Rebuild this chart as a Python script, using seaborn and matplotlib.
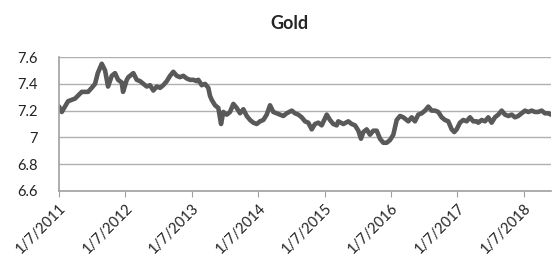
import numpy as np
import pandas as pd
import seaborn as sns
import matplotlib.pyplot as plt

# time since 7 Jan 2011, in years, and log gold price
t_years = [0.000, 0.041, 0.136, 0.241, 0.342, 0.437, 0.492, 0.542, 0.583, 0.643,
           0.693, 0.738, 0.794, 0.843, 0.889, 0.944, 0.964, 1.020, 1.044, 1.119,
           1.170, 1.220, 1.270, 1.321, 1.370, 1.420, 1.471, 1.521, 1.570, 1.622,
           1.672, 1.721, 1.773, 1.822, 1.872, 1.923, 1.973, 2.023, 2.074, 2.098,
           2.149, 2.199, 2.248, 2.274, 2.300, 2.349, 2.399, 2.440, 2.474, 2.526,
           2.575, 2.625, 2.676, 2.726, 2.776, 2.827, 2.877, 2.926, 2.977, 3.027,
           3.077, 3.128, 3.178, 3.227, 3.279, 3.328, 3.378, 3.429, 3.505, 3.554,
           3.604, 3.655, 3.705, 3.754, 3.806, 3.855, 3.905, 3.956, 4.032, 4.081,
           4.131, 4.182, 4.206, 4.282, 4.357, 4.408, 4.458, 4.508, 4.548, 4.583,
           4.634, 4.684, 4.733, 4.785, 4.834, 4.884, 4.935, 4.985, 5.035, 5.086,
           5.136, 5.185, 5.261, 5.312, 5.361, 5.411, 5.462, 5.512, 5.562, 5.613,
           5.663, 5.712, 5.764, 5.813, 5.863, 5.914, 5.953, 5.989, 6.039, 6.089,
           6.140, 6.190, 6.239, 6.290, 6.315, 6.366, 6.416, 6.465, 6.516, 6.566,
           6.616, 6.667, 6.717, 6.767, 6.818, 6.867, 6.917, 6.968, 7.018, 7.068,
           7.119, 7.169, 7.218, 7.269, 7.319, 7.369, 7.410]
gold = [7.23, 7.19, 7.27, 7.29, 7.34, 7.34, 7.37, 7.40, 7.48, 7.55,
        7.50, 7.38, 7.46, 7.48, 7.43, 7.41, 7.34, 7.43, 7.45, 7.48,
        7.43, 7.42, 7.40, 7.38, 7.39, 7.35, 7.38, 7.37, 7.39, 7.42,
        7.46, 7.49, 7.46, 7.45, 7.46, 7.44, 7.43, 7.43, 7.42, 7.43,
        7.39, 7.40, 7.37, 7.31, 7.28, 7.24, 7.22, 7.10, 7.19, 7.17,
        7.19, 7.25, 7.22, 7.18, 7.21, 7.16, 7.13, 7.11, 7.10, 7.12,
        7.13, 7.17, 7.24, 7.19, 7.18, 7.17, 7.16, 7.18, 7.20, 7.18,
        7.17, 7.15, 7.12, 7.11, 7.06, 7.10, 7.11, 7.09, 7.17, 7.13,
        7.10, 7.09, 7.12, 7.10, 7.12, 7.10, 7.09, 7.05, 6.99, 7.04,
        7.06, 7.02, 7.05, 7.05, 6.99, 6.96, 6.96, 6.98, 7.02, 7.13,
        7.16, 7.15, 7.12, 7.15, 7.12, 7.17, 7.18, 7.20, 7.23, 7.20,
        7.20, 7.19, 7.15, 7.13, 7.12, 7.06, 7.04, 7.06, 7.11, 7.13,
        7.12, 7.15, 7.12, 7.12, 7.11, 7.13, 7.12, 7.15, 7.11, 7.15,
        7.17, 7.20, 7.17, 7.16, 7.17, 7.15, 7.16, 7.18, 7.20, 7.19,
        7.20, 7.19, 7.19, 7.20, 7.18, 7.18, 7.17]
tick_years = [2011, 2012, 2013, 2014, 2015, 2016, 2017, 2018]

start = pd.Timestamp("2011-01-07")
df = pd.DataFrame({
    "date": start + pd.to_timedelta(np.array(t_years) * 365.25, unit="D"),
    "gold": gold,
})

sns.set_style("white")
plt.rcParams["font.family"] = ["Lato", "DejaVu Sans"]

fig = plt.figure(figsize=(5.52, 2.63), dpi=100)
ax = fig.add_axes([0.107, 0.274, 0.891, 0.509])

sns.lineplot(data=df, x="date", y="gold", ax=ax, color="#595959", linewidth=3.3)

ticks = [pd.Timestamp(f"{y}-01-07") for y in tick_years]
ax.set_xticks(ticks)
ax.set_xticklabels([f"1/7/{y}" for y in tick_years], rotation=45, ha="right",
                   rotation_mode="anchor", fontsize=10.5, color="#222222")
ax.set_xlim(start, start + pd.Timedelta(days=int(7.41 * 365.25)))

ax.set_ylim(6.6, 7.6)
ax.set_yticks([6.6, 6.8, 7.0, 7.2, 7.4, 7.6])
ax.set_yticklabels(["6.6", "6.8", "7", "7.2", "7.4", "7.6"], fontsize=10.5, color="#222222")
ax.grid(axis="y", color="#b0b0b0", linewidth=1)
ax.grid(axis="x", visible=False)
ax.set_xlabel("")
ax.set_ylabel("")

for side in ["top", "right"]:
    ax.spines[side].set_visible(False)
for side in ["left", "bottom"]:
    ax.spines[side].set_color("#a0a0a0")
    ax.spines[side].set_linewidth(1.2)
ax.tick_params(axis="x", bottom=True, length=4, color="#a0a0a0", pad=3)
ax.tick_params(axis="y", left=False, pad=12)

fig.text(0.524, 0.91, "Gold", ha="center", va="center", fontsize=13, fontweight="bold")

fig.savefig("out.png", dpi=100)
